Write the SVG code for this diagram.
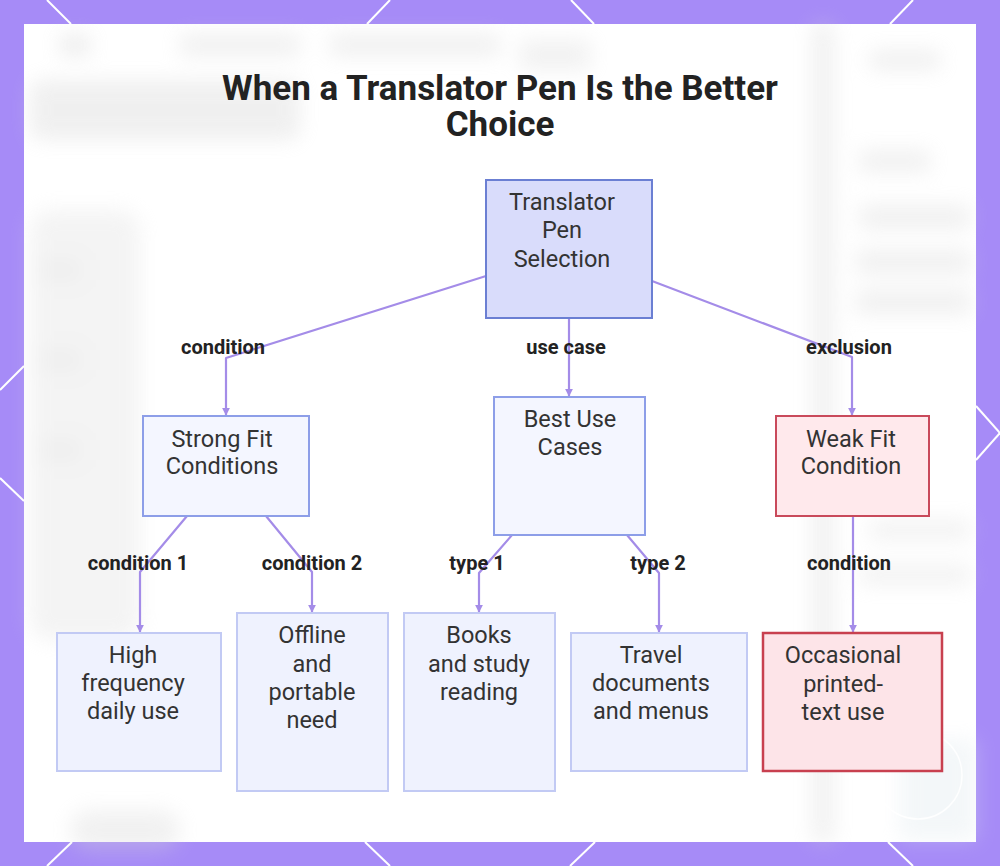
<svg xmlns="http://www.w3.org/2000/svg" width="1000" height="866" viewBox="0 0 1000 866">
  <defs>
    <filter id="blur" x="-30%" y="-30%" width="160%" height="160%">
      <feGaussianBlur stdDeviation="10"/>
    </filter>
    <marker id="arrow" viewBox="0 0 10 10" refX="9" refY="5" markerWidth="8" markerHeight="8" markerUnits="userSpaceOnUse" orient="auto">
      <path d="M0,0 L10,5 L0,10 z" fill="#a48ce8"/>
    </marker>
    <style>
      .frame { stroke: #ffffff; stroke-width: 2; fill: none; }
      .edge { fill: none; stroke: #a48ce8; stroke-width: 2.2; stroke-linejoin: round; marker-end: url(#arrow); }
      .elabel { font-family: Roboto, "Liberation Sans", sans-serif; font-weight: bold; font-size: 20px; fill: #222222; text-anchor: middle; }
      .ntext { font-family: Roboto, "Liberation Sans", sans-serif; font-size: 23.5px; fill: #333333; text-anchor: middle; }
      .root { fill: #d9dcfb; stroke: #6b7fd3; stroke-width: 2; }
      .mid { fill: #f4f6ff; stroke: #8d9ee8; stroke-width: 2; }
      .leaf { fill: #eff2fe; stroke: #c2caf4; stroke-width: 2; }
      .weak { fill: #ffe9ec; stroke: #c94a5b; stroke-width: 2; }
      .weakleaf { fill: #fde4e8; stroke: #c8404f; stroke-width: 2.5; }
      .title { font-family: Roboto, "Liberation Sans", sans-serif; font-weight: bold; font-size: 35px; fill: #222222; text-anchor: middle; }
    </style>
  </defs>

  <!-- purple frame -->
  <rect x="0" y="0" width="1000" height="866" fill="#a68bf7"/>
  <g class="frame">
    <line x1="47" y1="0" x2="71" y2="24"/>
    <line x1="390" y1="0" x2="367" y2="24"/>
    <line x1="571" y1="0" x2="594" y2="24"/>
    <line x1="913" y1="0" x2="890" y2="24"/>
    <line x1="72" y1="842" x2="47" y2="866"/>
    <line x1="365" y1="842" x2="390" y2="866"/>
    <line x1="595" y1="842" x2="570" y2="866"/>
    <line x1="888" y1="842" x2="913" y2="866"/>
    <line x1="0" y1="390" x2="24" y2="366"/>
    <line x1="0" y1="478" x2="24" y2="501"/>
    <line x1="976" y1="406" x2="1000" y2="433"/>
    <line x1="976" y1="460" x2="1000" y2="433"/>
  </g>

  <!-- white panel with faint blurred backdrop -->
  <rect x="24" y="24" width="952" height="818" fill="#ffffff"/>
  <g filter="url(#blur)" opacity="0.35">
    <rect x="60" y="34" width="30" height="22" fill="#cfcfcf"/>
    <rect x="180" y="34" width="120" height="22" fill="#d6d6d6"/>
    <rect x="330" y="34" width="170" height="22" fill="#d6d6d6"/>
    <rect x="520" y="40" width="70" height="30" fill="#d9d9d9"/>
    <rect x="30" y="80" width="270" height="60" rx="10" fill="#d4d4d4"/>
    <rect x="30" y="210" width="110" height="430" rx="20" fill="#e0e0e0"/>
    <rect x="40" y="260" width="40" height="20" fill="#d0d0d0"/>
    <rect x="40" y="350" width="40" height="20" fill="#d0d0d0"/>
    <rect x="40" y="440" width="40" height="20" fill="#d0d0d0"/>
    <rect x="812" y="24" width="22" height="818" fill="#d8d8d8"/>
    <rect x="870" y="50" width="70" height="20" fill="#d6d6d6"/>
    <rect x="860" y="150" width="70" height="22" fill="#d6d6d6"/>
    <rect x="860" y="205" width="110" height="24" fill="#d6d6d6"/>
    <rect x="856" y="250" width="115" height="24" fill="#d6d6d6"/>
    <rect x="856" y="290" width="115" height="24" fill="#d6d6d6"/>
    <rect x="870" y="520" width="100" height="20" fill="#dcdcdc"/>
    <rect x="860" y="565" width="110" height="20" fill="#dcdcdc"/>
    <rect x="70" y="810" width="110" height="40" rx="20" fill="#d8d8d8"/>
    <rect x="900" y="740" width="76" height="100" fill="#dfe9ee"/>
  </g>
  <circle cx="918" cy="775" r="44" fill="none" stroke="#ffffff" stroke-width="1.5" opacity="0.9"/>

  <text class="title"><tspan x="500" y="100">When a Translator Pen Is the Better</tspan><tspan x="500" y="136">Choice</tspan></text>

  <!-- connectors -->
  <g id="connectors">
    <path class="edge" d="M486,276 L226,358 L226,415"/>
    <path class="edge" d="M569,318 L569,396"/>
    <path class="edge" d="M652,281 L852,357 L852,415"/>
    <path class="edge" d="M187,516 L140,572 L140,632"/>
    <path class="edge" d="M266,516 L312,572 L312,612"/>
    <path class="edge" d="M512,535 L479,573 L479,612"/>
    <path class="edge" d="M627,535 L659,573 L659,632"/>
    <path class="edge" d="M853,516 L853,632"/>
    <text class="elabel" x="223" y="354">condition</text>
    <text class="elabel" x="566" y="354">use case</text>
    <text class="elabel" x="849" y="354">exclusion</text>
    <text class="elabel" x="138" y="570">condition 1</text>
    <text class="elabel" x="312" y="570">condition 2</text>
    <text class="elabel" x="477" y="570">type 1</text>
    <text class="elabel" x="658" y="570">type 2</text>
    <text class="elabel" x="849" y="570">condition</text>
  </g>

  <!-- nodes -->
  <g id="root">
    <rect class="root" x="486" y="180" width="166" height="138"/>
    <text class="ntext"><tspan x="562" y="210">Translator</tspan><tspan x="562" y="238">Pen</tspan><tspan x="562" y="267">Selection</tspan></text>
  </g>
  <g id="strong">
    <rect class="mid" x="143" y="416" width="166" height="100"/>
    <text class="ntext"><tspan x="222" y="447">Strong Fit</tspan><tspan x="222" y="474">Conditions</tspan></text>
  </g>
  <g id="best">
    <rect class="mid" x="494" y="397" width="151" height="138"/>
    <text class="ntext"><tspan x="570" y="427">Best Use</tspan><tspan x="570" y="455">Cases</tspan></text>
  </g>
  <g id="weak">
    <rect class="weak" x="776" y="416" width="153" height="100"/>
    <text class="ntext"><tspan x="851" y="447">Weak Fit</tspan><tspan x="851" y="474">Condition</tspan></text>
  </g>
  <g id="high">
    <rect class="leaf" x="57" y="633" width="164" height="138"/>
    <text class="ntext"><tspan x="133" y="663">High</tspan><tspan x="133" y="691">frequency</tspan><tspan x="133" y="719">daily use</tspan></text>
  </g>
  <g id="offline">
    <rect class="leaf" x="237" y="613" width="151" height="178"/>
    <text class="ntext"><tspan x="312" y="643">Offline</tspan><tspan x="312" y="672">and</tspan><tspan x="312" y="700">portable</tspan><tspan x="312" y="728">need</tspan></text>
  </g>
  <g id="books">
    <rect class="leaf" x="404" y="613" width="151" height="178"/>
    <text class="ntext"><tspan x="479" y="643">Books</tspan><tspan x="479" y="672">and study</tspan><tspan x="479" y="700">reading</tspan></text>
  </g>
  <g id="travel">
    <rect class="leaf" x="571" y="633" width="176" height="138"/>
    <text class="ntext"><tspan x="651" y="663">Travel</tspan><tspan x="651" y="691">documents</tspan><tspan x="651" y="719">and menus</tspan></text>
  </g>
  <g id="occasional">
    <rect class="weakleaf" x="763" y="633" width="179" height="138"/>
    <text class="ntext"><tspan x="843" y="663">Occasional</tspan><tspan x="843" y="692">printed-</tspan><tspan x="843" y="720">text use</tspan></text>
  </g>
</svg>
